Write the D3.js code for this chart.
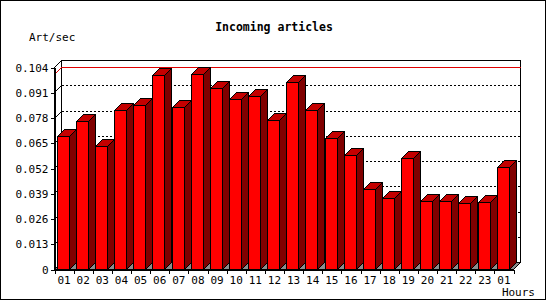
<!DOCTYPE html>
<html>
<head>
<meta charset="utf-8">
<script src="https://cdn.jsdelivr.net/npm/d3@7/dist/d3.min.js"></script>
<style>
  body { margin: 0; background: #fff; }
  svg { display: block; }
  text { font-family: "DejaVu Sans Mono", monospace; font-size: 11px; fill: #000; }
</style>
</head>
<body>
<svg id="chart" width="550" height="300"></svg>
<script>
// hourly incoming article rate
const hours = ['01', '02', '03', '04', '05', '06', '07', '08', '09', '10', '11', '12',
  '13', '14', '15', '16', '17', '18', '19', '20', '21', '22', '23', '01'];
const articlesPerSec = [0.0685, 0.0762, 0.0633, 0.0817, 0.0843, 0.0997, 0.0834, 0.1003,
  0.0930, 0.0874, 0.0889, 0.0766, 0.0961, 0.0817, 0.0673, 0.0585,
  0.0410, 0.0364, 0.0570, 0.0349, 0.0349, 0.0338, 0.0343, 0.0524];
const yTickValues = [0, 0.013, 0.026, 0.039, 0.052, 0.065, 0.078, 0.091, 0.104];
const yTickLabels = ['0', '0.013', '0.026', '0.039', '0.052', '0.065', '0.078', '0.091', '0.104'];

const PLOT_LEFT_PX = 54;
const PLOT_RIGHT_PX = 513;
const PLOT_TOP_PX = 67;
const PLOT_BOTTOM_PX = 269;
const DEPTH_PX = 7;

const BAR_OFFSET = 0.15;   // fraction of the band before the bar front
const BAR_WIDTH = 0.63;    // fraction of the band taken by the bar front

const FRONT_COLOR = '#ff0000';
const TOP_COLOR = '#c40000';
const SIDE_COLOR = '#800000';
const FLOOR_COLOR = '#8c8c8c';

const svg = d3.select('#chart');

const x = d3.scaleBand()
  .domain(d3.range(hours.length))
  .range([PLOT_LEFT_PX, PLOT_RIGHT_PX]);

const xEdges = d3.scaleLinear()
  .domain([0, hours.length])
  .range([PLOT_LEFT_PX, PLOT_RIGHT_PX]);

const y = d3.scaleLinear()
  .domain([0, d3.max(yTickValues)])
  .range([PLOT_BOTTOM_PX, PLOT_TOP_PX]);

const poly = pts => pts.map(p => p.join(',')).join(' ');

// outer frame
svg.append('rect')
  .attr('x', 0.5).attr('y', 0.5)
  .attr('width', 545).attr('height', 299)
  .attr('fill', '#fff')
  .attr('stroke', '#000');

const g = svg.append('g')
  .attr('transform', 'translate(0.5,0.5)')
  .attr('shape-rendering', 'crispEdges');

// back wall and left wall of the 3d box
g.append('rect')
  .attr('x', PLOT_LEFT_PX + DEPTH_PX)
  .attr('y', PLOT_TOP_PX - DEPTH_PX)
  .attr('width', PLOT_RIGHT_PX - PLOT_LEFT_PX)
  .attr('height', PLOT_BOTTOM_PX - PLOT_TOP_PX)
  .attr('fill', '#fff')
  .attr('stroke', '#000');

g.append('polygon')
  .attr('points', poly([
    [PLOT_LEFT_PX, PLOT_TOP_PX],
    [PLOT_LEFT_PX + DEPTH_PX, PLOT_TOP_PX - DEPTH_PX],
    [PLOT_LEFT_PX + DEPTH_PX, PLOT_BOTTOM_PX - DEPTH_PX],
    [PLOT_LEFT_PX, PLOT_BOTTOM_PX]
  ]))
  .attr('fill', '#fff')
  .attr('stroke', '#000');

// dotted grid on the back wall
const grid = g.append('g');
const gridValues = yTickValues.slice(1, -1);

grid.selectAll('line.wall')
  .data(gridValues)
  .join('line')
  .attr('class', 'wall')
  .attr('x1', PLOT_LEFT_PX)
  .attr('y1', d => Math.round(y(d)))
  .attr('x2', PLOT_LEFT_PX + DEPTH_PX)
  .attr('y2', d => Math.round(y(d)) - DEPTH_PX)
  .attr('stroke', '#000');

grid.selectAll('line.back')
  .data(gridValues)
  .join('line')
  .attr('class', 'back')
  .attr('x1', PLOT_LEFT_PX + DEPTH_PX)
  .attr('x2', PLOT_RIGHT_PX + DEPTH_PX)
  .attr('y1', d => Math.round(y(d)) - DEPTH_PX)
  .attr('y2', d => Math.round(y(d)) - DEPTH_PX)
  .attr('stroke', '#000')
  .attr('stroke-dasharray', '2,2');

// red line at the peak value
const peakY = Math.round(y(d3.max(articlesPerSec)));
g.append('polyline')
  .attr('points', poly([
    [PLOT_LEFT_PX, peakY],
    [PLOT_LEFT_PX + DEPTH_PX, peakY - DEPTH_PX],
    [PLOT_RIGHT_PX + DEPTH_PX, peakY - DEPTH_PX]
  ]))
  .attr('fill', 'none')
  .attr('stroke', '#e00000');

// floor
g.append('polygon')
  .attr('points', poly([
    [PLOT_LEFT_PX, PLOT_BOTTOM_PX],
    [PLOT_RIGHT_PX, PLOT_BOTTOM_PX],
    [PLOT_RIGHT_PX + DEPTH_PX, PLOT_BOTTOM_PX - DEPTH_PX],
    [PLOT_LEFT_PX + DEPTH_PX, PLOT_BOTTOM_PX - DEPTH_PX]
  ]))
  .attr('fill', FLOOR_COLOR)
  .attr('stroke', '#000');

// 3d bars: side, top, then front
const bars = g.selectAll('g.bar')
  .data(articlesPerSec)
  .join('g')
  .attr('class', 'bar')
  .attr('stroke', '#000');

const barLeft = (d, i) => Math.round(x(i) + x.bandwidth() * BAR_OFFSET);
const barRight = (d, i) => barLeft(d, i) + Math.round(x.bandwidth() * BAR_WIDTH);

bars.append('polygon')
  .attr('fill', SIDE_COLOR)
  .attr('points', (d, i) => {
    const x1 = barRight(d, i), y0 = Math.round(y(d));
    return poly([[x1, PLOT_BOTTOM_PX], [x1, y0], [x1 + DEPTH_PX, y0 - DEPTH_PX],
      [x1 + DEPTH_PX, PLOT_BOTTOM_PX - DEPTH_PX]]);
  });

bars.append('polygon')
  .attr('fill', TOP_COLOR)
  .attr('points', (d, i) => {
    const x0 = barLeft(d, i), x1 = barRight(d, i), y0 = Math.round(y(d));
    return poly([[x0, y0], [x0 + DEPTH_PX, y0 - DEPTH_PX], [x1 + DEPTH_PX, y0 - DEPTH_PX], [x1, y0]]);
  });

bars.append('rect')
  .attr('fill', FRONT_COLOR)
  .attr('x', barLeft)
  .attr('y', d => Math.round(y(d)))
  .attr('width', (d, i) => barRight(d, i) - barLeft(d, i))
  .attr('height', d => PLOT_BOTTOM_PX - Math.round(y(d)));

// axes
g.append('g')
  .attr('transform', `translate(${PLOT_LEFT_PX},0)`)
  .call(d3.axisLeft(y)
    .tickValues(yTickValues)
    .tickFormat((d, i) => yTickLabels[i])
    .tickSize(4)
    .tickSizeOuter(0)
    .tickPadding(2))
  .call(a => a.selectAll('text').attr('font-family', null).attr('font-size', null));

g.append('g')
  .attr('transform', `translate(0,${PLOT_BOTTOM_PX})`)
  .call(d3.axisBottom(xEdges)
    .tickValues(d3.range(hours.length + 1))
    .tickFormat('')
    .tickSize(4)
    .tickSizeOuter(0));

g.append('g')
  .attr('transform', `translate(0,${PLOT_BOTTOM_PX})`)
  .call(d3.axisBottom(x)
    .tickFormat(i => hours[i])
    .tickSize(0)
    .tickPadding(7))
  .call(a => a.select('.domain').remove())
  .call(a => a.selectAll('text').attr('font-family', null).attr('font-size', null));

// titles
svg.append('text')
  .attr('x', 274)
  .attr('y', 31)
  .attr('text-anchor', 'middle')
  .style('font-size', '11.5px')
  .style('font-weight', 'bold')
  .text('Incoming articles');

svg.append('text')
  .attr('x', 29)
  .attr('y', 41)
  .text('Art/sec');

svg.append('text')
  .attr('x', 535)
  .attr('y', 296)
  .attr('text-anchor', 'end')
  .text('Hours');
</script>
</body>
</html>
